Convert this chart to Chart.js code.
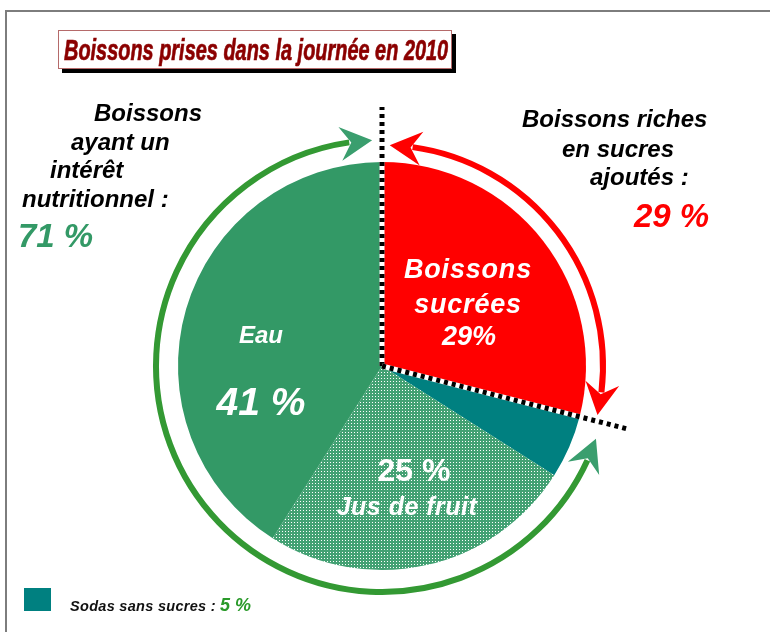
<!DOCTYPE html>
<html>
<head>
<meta charset="utf-8">
<script src="https://cdn.jsdelivr.net/npm/chart.js@4.4.1/dist/chart.umd.min.js"></script>
<style>
  body { margin: 0; background: #fff; }
  #wrap { position: relative; width: 770px; height: 632px; overflow: hidden;
          font-family: "Liberation Sans", Arial, sans-serif; }
  #frame { position: absolute; left: 5px; top: 10px; right: -5px; bottom: -5px;
           border-left: 2px solid #7d7d7d; border-top: 2px solid #7d7d7d; }
  canvas { position: absolute; left: 0; top: 0; }
  .t { position: absolute; white-space: nowrap; font-weight: bold; font-style: italic;
       line-height: 1; transform: translateY(-50%); z-index: 2; }
  .c { transform: translate(-50%, -50%); text-align: center; }
  .w { color: #fff; }
  #title { position: absolute; left: 58px; top: 30px; width: 392px; height: 37px;
           border: 1px solid #b56a6a; background: #fff; box-shadow: 4px 4px 0 #000; z-index: 2; overflow: hidden; }
  #title span { position: absolute; left: 5px; top: 19px; transform-origin: left center;
                font: bold italic 29px "Liberation Sans", Arial, sans-serif; color: #8b0000;
                -webkit-text-stroke: 0.7px #8b0000; white-space: nowrap; line-height: 1; }
  #sq { position: absolute; left: 24px; top: 588px; width: 27px; height: 23px; background: #008080; z-index: 2; }
</style>
</head>
<body>
<div id="wrap">
  <div id="frame"></div>
  <canvas id="pie" width="770" height="632"></canvas>
  <div id="title"><span id="titleText">Boissons prises dans la journée en 2010</span></div>

  <div class="t" style="left:94px;top:113px;font-size:24px">Boissons</div>
  <div class="t" style="left:71px;top:142px;font-size:24px">ayant un</div>
  <div class="t" style="left:50px;top:170px;font-size:24px">intérêt</div>
  <div class="t" style="left:22px;top:199px;font-size:24px">nutritionnel :</div>
  <div class="t" id="grpGood" style="left:18px;top:235px;font-size:33px;color:#339966"></div>

  <div class="t" style="left:522px;top:119px;font-size:24px">Boissons riches</div>
  <div class="t" style="left:562px;top:149px;font-size:24px">en sucres</div>
  <div class="t" style="left:590px;top:177px;font-size:24px">ajoutés :</div>
  <div class="t" id="grpSugar" style="left:634px;top:215px;font-size:33px;color:#ff0000"></div>

  <div class="t c w" style="left:468px;top:269px;font-size:27px;letter-spacing:0.8px">Boissons</div>
  <div class="t c w" style="left:468px;top:304px;font-size:27px;letter-spacing:0.8px">sucrées</div>
  <div class="t c w" id="lblSugar" style="left:469px;top:336px;font-size:27px"></div>

  <div class="t c w" style="left:261px;top:335px;font-size:24px">Eau</div>
  <div class="t c w" id="lblEau" style="left:261px;top:401px;font-size:39px"></div>

  <div class="t c w" id="lblJus" style="left:414px;top:470px;font-size:32px;font-style:normal"></div>
  <div class="t c w" style="left:407px;top:506px;font-size:25px;letter-spacing:0.5px">Jus de fruit</div>

  <div id="sq"></div>
  <div class="t" style="left:70px;top:606px;font-size:14.5px;letter-spacing:0.3px;color:#111">Sodas sans sucres :</div>
  <div class="t" id="lblSoda" style="left:220px;top:605px;font-size:18px;color:#2a9a2a"></div>
</div>
<script>
// slices, clockwise from the top
const categories = ["Boissons sucrées", "Sodas sans sucres", "Jus de fruit", "Eau"];
const shares = [29, 5, 25, 41];

// the two groups the arrows mark
const groups = ["Boissons riches en sucres ajoutés", "Boissons ayant un intérêt nutritionnel"];
const groupShares = [29, 71];

document.getElementById("lblSugar").textContent = shares[0] + "%";
document.getElementById("lblSoda").textContent = shares[1] + " %";
document.getElementById("lblJus").textContent = shares[2] + " %";
document.getElementById("lblEau").textContent = shares[3] + " %";
document.getElementById("grpSugar").textContent = groupShares[0] + " %";
document.getElementById("grpGood").textContent = groupShares[1] + " %";

// fit the condensed title into its box
const tt = document.getElementById("titleText");
tt.style.transform = "translateY(-50%) scaleX(" + (384 / tt.offsetWidth) + ")";

// green with a fine grid of white dots (the "jus de fruit" hatching)
function dotPattern(ctx) {
  const c = document.createElement("canvas");
  c.width = 3; c.height = 3;
  const g = c.getContext("2d");
  g.fillStyle = "#43a173";
  g.fillRect(0, 0, 3, 3);
  g.fillStyle = "#ffffff";
  g.fillRect(0, 0, 1, 1);
  return ctx.createPattern(c, "repeat");
}

function dotted(ctx, cx, cy, a, len) {
  const x2 = cx + Math.cos(a) * len, y2 = cy + Math.sin(a) * len;
  ctx.save();
  ctx.lineWidth = 5;
  ctx.strokeStyle = "#fff";
  ctx.beginPath(); ctx.moveTo(cx, cy); ctx.lineTo(x2, y2); ctx.stroke();
  ctx.strokeStyle = "#000";
  ctx.setLineDash([4, 4]);
  ctx.beginPath(); ctx.moveTo(cx, cy); ctx.lineTo(x2, y2); ctx.stroke();
  ctx.restore();
}

function head(ctx, cx, cy, R, a, back, color) {
  // tip on the circle at angle a, body pointing back towards angle a+back
  const L = 32, W = 17, N = 11;
  const tx = cx + R * Math.cos(a), ty = cy + R * Math.sin(a);
  const b = a + back * L / R;
  const bx = cx + R * Math.cos(b), by = cy + R * Math.sin(b);
  let dx = tx - bx, dy = ty - by;
  const d = Math.hypot(dx, dy); dx /= d; dy /= d;
  const px = -dy, py = dx;
  ctx.beginPath();
  ctx.moveTo(tx, ty);
  ctx.lineTo(tx - dx * L + px * W, ty - dy * L + py * W);
  ctx.lineTo(tx - dx * (L - N), ty - dy * (L - N));
  ctx.lineTo(tx - dx * L - px * W, ty - dy * L - py * W);
  ctx.closePath();
  ctx.fillStyle = color;
  ctx.fill();
}

function doubleArrow(ctx, cx, cy, R, a0, a1, lineColor, headColor) {
  const gap = 23 / R;
  ctx.save();
  ctx.lineWidth = 6;
  ctx.strokeStyle = lineColor;
  ctx.beginPath();
  ctx.arc(cx, cy, R, a0 + gap, a1 - gap);
  ctx.stroke();
  head(ctx, cx, cy, R, a0, 1, headColor);
  head(ctx, cx, cy, R, a1, -1, headColor);
  ctx.restore();
}

const annotations = {
  id: "annotations",
  afterDatasetsDraw(chart) {
    const ctx = chart.ctx;
    const red = chart.getDatasetMeta(0).data[0];
    const cx = red.x, cy = red.y, r = red.outerRadius;
    const deg = Math.PI / 180;
    dotted(ctx, cx, cy, red.startAngle, r + 55);
    dotted(ctx, cx, cy, red.endAngle, r + 48);
    doubleArrow(ctx, cx, cy, r + 17, red.startAngle + 2 * deg, red.endAngle - 1.6 * deg, "#ff0000", "#ff0000");
    doubleArrow(ctx, cx, cy, r + 22, red.endAngle + 4.4 * deg, red.startAngle + 2 * Math.PI - 2.5 * deg, "#339933", "#3a9e6e");
  }
};

const canvas = document.getElementById("pie");
const pctx = canvas.getContext("2d");

new Chart(canvas, {
  type: "pie",
  data: {
    labels: categories,
    datasets: [{
      data: shares,
      backgroundColor: ["#ff0000", "#008080", dotPattern(pctx), "#339966"],
      borderWidth: 0
    }]
  },
  options: {
    responsive: false,
    animation: false,
    devicePixelRatio: 1,
    layout: { padding: { left: 178, right: 184, top: 162, bottom: 62 } },
    plugins: {
      legend: { display: false },
      tooltip: { enabled: false }
    }
  },
  plugins: [annotations]
});
</script>
</body>
</html>
